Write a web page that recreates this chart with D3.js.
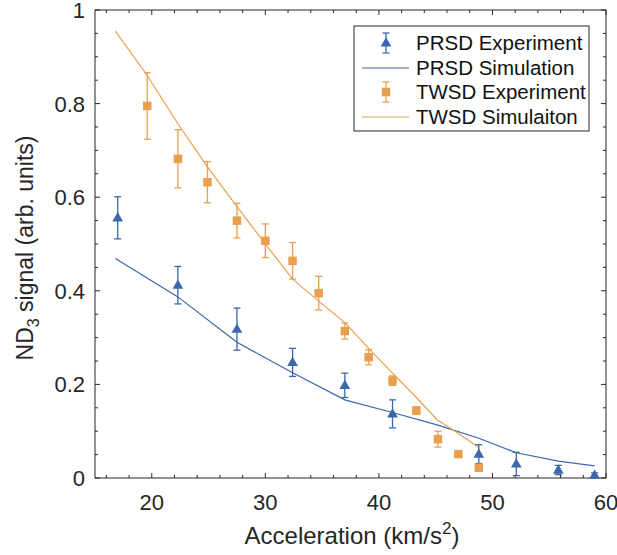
<!DOCTYPE html>
<html>
<head>
<meta charset="utf-8">
<script src="https://cdn.jsdelivr.net/npm/d3@7"></script>
<style>
  body { margin: 0; background: #fff; }
  svg { font-family: "Liberation Sans", Arial, Helvetica, sans-serif; }
</style>
</head>
<body>
<svg id="chart" width="617" height="555"></svg>
<script>
// data
var prsdX   = [17, 22.3, 27.5, 32.4, 37.0, 41.2, 48.8, 52.1, 55.8, 59.0]
var prsdY   = [0.556, 0.412, 0.318, 0.247, 0.198, 0.137, 0.051, 0.030, 0.017, 0.006]
var prsdErr = [0.045, 0.040, 0.045, 0.030, 0.026, 0.030, 0.020, 0.025, 0.010, 0.005]

var prsdSimX = [16.8, 22.3, 27.5, 32.4, 37.0, 41.2, 45.2, 48.8, 52.1, 55.8, 59.0]
var prsdSimY = [0.469, 0.387, 0.290, 0.225, 0.167, 0.140, 0.113, 0.085, 0.054, 0.036, 0.026]

var twsdX   = [19.6, 22.3, 24.9, 27.5, 30.0, 32.4, 34.7, 37.0, 39.1, 41.2, 43.3, 45.2, 47.0, 48.8]
var twsdY   = [0.795, 0.682, 0.632, 0.550, 0.507, 0.464, 0.395, 0.314, 0.258, 0.208, 0.144, 0.083, 0.051, 0.022]
var twsdErr = [0.071, 0.062, 0.044, 0.037, 0.036, 0.039, 0.036, 0.017, 0.016, 0.010, 0.008, 0.017, 0, 0]

var twsdSimX = [16.8, 19.6, 22.3, 24.9, 27.5, 30.0, 32.4, 34.7, 37.0, 39.1, 41.2, 43.3, 45.1, 47.0, 48.8]
var twsdSimY = [0.955, 0.860, 0.757, 0.665, 0.580, 0.500, 0.425, 0.378, 0.332, 0.277, 0.224, 0.172, 0.125, 0.095, 0.065]

var xTicks = [20, 30, 40, 50, 60]
var yTicks = [0, 0.2, 0.4, 0.6, 0.8, 1]
var legendLabels = ["PRSD Experiment", "PRSD Simulation", "TWSD Experiment", "TWSD Simulaiton"]

var blue = "#3d66ab"
var orange = "#e8a04e"
var axisColor = "#262626"

var svg = d3.select("#chart")
// plot box edges (not called top/left: those clash with window globals)
var pL = 95, pR = 606, pT = 10, pB = 478

var x = d3.scaleLinear().domain([15, 60]).range([pL, pR])
var y = d3.scaleLinear().domain([0, 1]).range([pB, pT])

// minor + major ticks on all four sides, pointing inward
var xMinor = d3.range(16, 60.1, 2)
var yMinor = d3.range(0, 1.001, 0.05)
var tickG = svg.append("g").attr("stroke", axisColor).attr("stroke-width", 1)

xMinor.forEach(function(v) {
  var len = (Math.abs(v % 10) < 0.01) ? 5 : 3
  tickG.append("line").attr("x1", x(v)).attr("x2", x(v)).attr("y1", pB).attr("y2", pB - len)
  tickG.append("line").attr("x1", x(v)).attr("x2", x(v)).attr("y1", pT).attr("y2", pT + len)
})
yMinor.forEach(function(v) {
  var major = Math.abs(Math.round(v * 5) - v * 5) < 0.01
  var len = major ? 5 : 3
  tickG.append("line").attr("y1", y(v)).attr("y2", y(v)).attr("x1", pL).attr("x2", pL + len)
  tickG.append("line").attr("y1", y(v)).attr("y2", y(v)).attr("x1", pR).attr("x2", pR - len)
})

// box
svg.append("rect")
  .attr("x", pL).attr("y", pT)
  .attr("width", pR - pL).attr("height", pB - pT)
  .attr("fill", "none").attr("stroke", axisColor).attr("stroke-width", 1)

// tick labels
svg.append("g").selectAll("text").data(xTicks).join("text")
  .attr("x", function(d) { return x(d) }).attr("y", 510)
  .attr("text-anchor", "middle").attr("font-size", 22).attr("fill", axisColor)
  .text(function(d) { return d })

svg.append("g").selectAll("text").data(yTicks).join("text")
  .attr("x", 85).attr("y", function(d) { return y(d) + 8 })
  .attr("text-anchor", "end").attr("font-size", 22).attr("fill", axisColor)
  .text(function(d) { return d })

// axis labels
var xl = svg.append("text").attr("x", 352).attr("y", 544)
  .attr("text-anchor", "middle").attr("font-size", 24).attr("fill", axisColor)
xl.append("tspan").text("Acceleration (km/s")
xl.append("tspan").attr("font-size", 17).attr("dy", -10).text("2")
xl.append("tspan").attr("dy", 10).text(")")

var yl = svg.append("text").attr("transform", "translate(33,248) rotate(-90)")
  .attr("text-anchor", "middle").attr("font-size", 23).attr("fill", axisColor)
yl.append("tspan").text("ND")
yl.append("tspan").attr("font-size", 16).attr("dy", 6).text("3")
yl.append("tspan").attr("dy", -6).text(" signal (arb. units)")

// simulation lines
var line = d3.line().x(function(d) { return x(d[0]) }).y(function(d) { return y(d[1]) })

svg.append("path")
  .datum(d3.zip(prsdSimX, prsdSimY))
  .attr("d", line).attr("fill", "none").attr("stroke", blue).attr("stroke-width", 1.2)

svg.append("path")
  .datum(d3.zip(twsdSimX, twsdSimY))
  .attr("d", line).attr("fill", "none").attr("stroke", orange).attr("stroke-width", 1.2)

// error bars + markers
function errorBars(xs, ys, es, color) {
  var g = svg.append("g").attr("stroke", color).attr("stroke-width", 1.3).attr("fill", "none")
  xs.forEach(function(v, i) {
    if (es[i] <= 0) return
    var cx = x(v), y1 = y(ys[i] - es[i]), y2 = y(ys[i] + es[i])
    g.append("line").attr("x1", cx).attr("x2", cx).attr("y1", y1).attr("y2", y2)
    g.append("line").attr("x1", cx - 3.5).attr("x2", cx + 3.5).attr("y1", y1).attr("y2", y1)
    g.append("line").attr("x1", cx - 3.5).attr("x2", cx + 3.5).attr("y1", y2).attr("y2", y2)
  })
}
errorBars(twsdX, twsdY, twsdErr, orange)
errorBars(prsdX, prsdY, prsdErr, blue)

var tri = d3.symbol().type(d3.symbolTriangle).size(50)
var sq = d3.symbol().type(d3.symbolSquare).size(72)

svg.append("g").selectAll("path").data(d3.zip(twsdX, twsdY)).join("path")
  .attr("d", sq).attr("fill", orange)
  .attr("transform", function(d) { return "translate(" + x(d[0]) + "," + y(d[1]) + ")" })

svg.append("g").selectAll("path").data(d3.zip(prsdX, prsdY)).join("path")
  .attr("d", tri).attr("fill", blue)
  .attr("transform", function(d) { return "translate(" + x(d[0]) + "," + (y(d[1]) + 0.5) + ")" })

// legend
var lg = svg.append("g")
lg.append("rect").attr("x", 354).attr("y", 26).attr("width", 235).attr("height", 105)
  .attr("fill", "#fff").attr("stroke", axisColor).attr("stroke-width", 1)

var rowY = [43, 68, 92, 117]
var rowColor = [blue, blue, orange, orange]
legendLabels.forEach(function(lab, i) {
  var cy = rowY[i], c = rowColor[i]
  if (i % 2 === 0) {
    lg.append("line").attr("x1", 386).attr("x2", 386).attr("y1", cy - 10).attr("y2", cy + 10).attr("stroke", c).attr("stroke-width", 1.3)
    lg.append("line").attr("x1", 382.5).attr("x2", 389.5).attr("y1", cy - 10).attr("y2", cy - 10).attr("stroke", c).attr("stroke-width", 1.3)
    lg.append("line").attr("x1", 382.5).attr("x2", 389.5).attr("y1", cy + 10).attr("y2", cy + 10).attr("stroke", c).attr("stroke-width", 1.3)
    lg.append("path").attr("d", i === 0 ? tri : sq).attr("fill", c)
      .attr("transform", "translate(386," + (cy + (i === 0 ? 0.5 : 0)) + ")")
  } else {
    lg.append("line").attr("x1", 362).attr("x2", 409).attr("y1", cy).attr("y2", cy).attr("stroke", c).attr("stroke-width", 1.2)
  }
  lg.append("text").attr("x", 416).attr("y", cy + 7).attr("font-size", 20.5).attr("fill", "#111").text(lab)
})
</script>
</body>
</html>
